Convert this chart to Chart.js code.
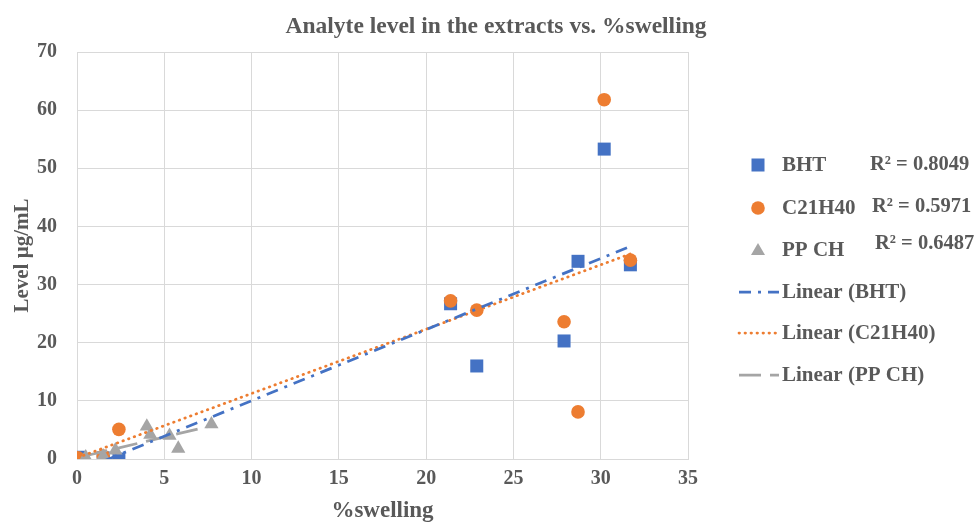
<!DOCTYPE html>
<html>
<head>
<meta charset="utf-8">
<script src="https://cdn.jsdelivr.net/npm/chart.js@4.4.1/dist/chart.umd.min.js"></script>
<style>
html,body{margin:0;padding:0;background:#fff;}
#wrap{width:977px;height:525px;position:relative;}
</style>
</head>
<body>
<div id="wrap"><canvas id="c" width="977" height="525"></canvas></div>
<script>
// ---- data ----
const chartTitle = 'Analyte level in the extracts vs. %swelling';
const xTitle = '%swelling';
const yTitle = 'Level µg/mL';
const seriesNames = ['BHT', 'C21H40', 'PP CH'];
const trendNames = ['Linear (BHT)', 'Linear (C21H40)', 'Linear (PP CH)'];
const r2Labels = ['R² = 0.8049', 'R² = 0.5971', 'R² = 0.6487'];

const bhtX = [0.1, 1.5, 2.4, 21.4, 22.9, 27.9, 28.7, 30.2, 31.7];
const bhtY = [0.3, 0.2, 0.0, 26.7, 16.0, 20.3, 34.0, 53.3, 33.4];
const c21X = [0.05, 1.5, 2.4, 21.4, 22.9, 27.9, 28.7, 30.2, 31.7];
const c21Y = [0.2, 0.5, 5.1, 27.2, 25.6, 23.6, 8.1, 61.8, 34.2];
const ppX  = [0.5, 1.5, 2.2, 4.0, 4.2, 5.3, 5.8, 7.7];
const ppY  = [0.3, 0.5, 1.5, 5.6, 4.2, 4.0, 1.8, 6.0];

const xTicks = [0, 5, 10, 15, 20, 25, 30, 35];
const yTicks = [0, 10, 20, 30, 40, 50, 60, 70];

const colors = ['#4472C4', '#ED7D31', '#A5A5A5'];
const textColor = '#595959';
const fontFam = "'Liberation Serif', 'Times New Roman', serif";

function pts(xs, ys) { return xs.map((x, i) => ({x: x, y: ys[i]})); }
// least-squares linear trendline across the data's x range
function trend(xs, ys) {
  const n = xs.length;
  const mx = xs.reduce((a, b) => a + b, 0) / n;
  const my = ys.reduce((a, b) => a + b, 0) / n;
  let sxy = 0, sxx = 0;
  for (let i = 0; i < n; i++) { sxy += (xs[i] - mx) * (ys[i] - my); sxx += (xs[i] - mx) ** 2; }
  const m = sxy / sxx, b = my - m * mx;
  const x0 = Math.min(...xs), x1 = Math.max(...xs);
  return [{x: x0, y: m * x0 + b}, {x: x1, y: m * x1 + b}];
}

const dashes = [[12, 7, 3, 7], [0.5, 5.5], [22, 9]];
const caps = ['butt', 'round', 'butt'];

const overlay = {
  id: 'overlay',
  afterDraw(chart) {
    const ctx = chart.ctx;
    ctx.save();
    // title
    ctx.fillStyle = textColor;
    ctx.font = 'bold 23.5px ' + fontFam;
    ctx.textAlign = 'center';
    ctx.textBaseline = 'alphabetic';
    ctx.fillText(chartTitle, 496, 33);

    // legend
    ctx.font = 'bold 21px ' + fontFam;
    ctx.textAlign = 'left';
    ctx.textBaseline = 'middle';
    const mx = 758;
    const rowY = [165, 208, 250, 292, 333, 375];
    // square
    ctx.fillStyle = colors[0];
    ctx.fillRect(mx - 6.5, rowY[0] - 6.5, 13, 13);
    // circle
    ctx.fillStyle = colors[1];
    ctx.beginPath(); ctx.arc(mx, rowY[1], 6.8, 0, Math.PI * 2); ctx.fill();
    // triangle
    ctx.fillStyle = colors[2];
    ctx.beginPath();
    ctx.moveTo(mx, rowY[2] - 7); ctx.lineTo(mx + 7, rowY[2] + 5); ctx.lineTo(mx - 7, rowY[2] + 5);
    ctx.closePath(); ctx.fill();
    ctx.fillStyle = textColor;
    for (let i = 0; i < 3; i++) ctx.fillText(seriesNames[i], 782, rowY[i] + 1);
    // trend lines
    for (let i = 0; i < 3; i++) {
      const y = rowY[3 + i];
      ctx.strokeStyle = colors[i];
      ctx.lineWidth = 2.75;
      ctx.lineCap = caps[i];
      ctx.setLineDash(dashes[i]);
      ctx.beginPath(); ctx.moveTo(739, y); ctx.lineTo(779, y); ctx.stroke();
      ctx.setLineDash([]);
      ctx.fillStyle = textColor;
      ctx.fillText(trendNames[i], 782, y + 1);
    }
    // R² labels
    ctx.font = 'bold 20.5px ' + fontFam;
    const r2Pos = [[870, 165], [872, 207], [875, 244]];
    for (let i = 0; i < 3; i++) ctx.fillText(r2Labels[i], r2Pos[i][0], r2Pos[i][1]);
    ctx.restore();
  }
};

const scatterSets = [
  {label: seriesNames[0], data: pts(bhtX, bhtY), pointStyle: 'rect', pointRadius: 9.2, order: 3},
  {label: seriesNames[1], data: pts(c21X, c21Y), pointStyle: 'circle', pointRadius: 6.8, order: 2},
  {label: seriesNames[2], data: pts(ppX, ppY), pointStyle: 'triangle', pointRadius: 8.2, order: 1}
].map((d, i) => Object.assign(d, {
  backgroundColor: colors[i], borderColor: colors[i], borderWidth: 0, pointHoverRadius: d.pointRadius, showLine: false
}));

const trendSets = [
  [bhtX, bhtY], [c21X, c21Y], [ppX, ppY]
].map((s, i) => ({
  label: trendNames[i], data: trend(s[0], s[1]), showLine: true, pointRadius: 0, pointHoverRadius: 0,
  borderColor: colors[i], borderWidth: 2.75, borderDash: dashes[i], borderCapStyle: caps[i],
  fill: false, order: 0
}));

new Chart(document.getElementById('c'), {
  type: 'scatter',
  data: {datasets: scatterSets.concat(trendSets)},
  options: {
    responsive: false,
    animation: false,
    layout: {padding: {left: 0, right: 289, top: 52, bottom: 0}},
    plugins: {legend: {display: false}, tooltip: {enabled: false}, title: {display: false}},
    scales: {
      x: {
        type: 'linear', min: 0, max: 35,
        afterBuildTicks: s => { s.ticks = xTicks.map(v => ({value: v})); },
        afterFit: s => { s.height = 66; },
        grid: {color: '#d9d9d9', lineWidth: 1, drawTicks: false},
        border: {color: '#d9d9d9', width: 1},
        ticks: {color: textColor, font: {family: fontFam, size: 20, weight: 'bold'}, padding: 8, maxRotation: 0},
        title: {display: true, text: xTitle, color: textColor, font: {family: fontFam, size: 23, weight: 'bold'}, padding: {top: 0, bottom: 0}}
      },
      y: {
        type: 'linear', min: 0, max: 70,
        afterBuildTicks: s => { s.ticks = yTicks.map(v => ({value: v})); },
        afterFit: s => { s.width = 77; },
        grid: {color: '#d9d9d9', lineWidth: 1, drawTicks: false},
        border: {color: '#d9d9d9', width: 1},
        ticks: {color: textColor, font: {family: fontFam, size: 20, weight: 'bold'}, padding: 20},
        title: {display: true, text: yTitle, color: textColor, font: {family: fontFam, size: 21, weight: 'bold'}, padding: {top: 10, bottom: 0}}
      }
    }
  },
  plugins: [overlay]
});
</script>
</body>
</html>
